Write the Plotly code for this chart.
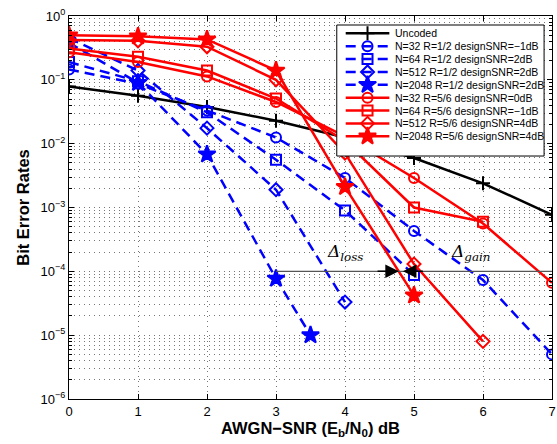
import plotly.graph_objects as go

# Eb/N0 points (dB)
snr = [0, 1, 2, 3, 4, 5, 6, 7]
snr_2048_half = [0, 1, 2, 3, 3.5]

# Uncoded BPSK
ber_uncoded = [0.0786, 0.0563, 0.0375, 0.0229, 0.0125, 0.00595, 0.00239, 0.00077]

# Polar codes, R = 1/2
ber_n32_r12 = [0.145, 0.087, 0.033, 0.0125, 0.0029, 4.3e-4, 7.3e-5, 5e-6]
ber_n64_r12 = [0.19, 0.095, 0.031, 0.0056, 9e-4, 8.8e-5]
ber_n512_r12 = [0.45, 0.14, 0.0175, 0.0019, 3.3e-5]
ber_n2048_r12 = [0.38, 0.09, 0.0068, 7.7e-5, 1e-5]

# Polar codes, R = 5/6
ber_n32_r56 = [0.27, 0.19, 0.113, 0.045, 0.013, 0.0029, 5.6e-4, 6.6e-5]
ber_n64_r56 = [0.31, 0.23, 0.14, 0.051, 0.011, 1e-3, 6e-4]
ber_n512_r56 = [0.42, 0.41, 0.33, 0.1, 0.0071, 1.3e-4, 8e-6]
ber_n2048_r56 = [0.5, 0.48, 0.43, 0.14, 0.0021, 4.2e-5]

# Reference BER level for the loss/gain comparison
ber_ref = 1e-4

ytick_vals = [1, 1e-1, 1e-2, 1e-3, 1e-4, 1e-5, 1e-6]
ytick_text = ["10<sup>0</sup>", "10<sup>−1</sup>", "10<sup>−2</sup>", "10<sup>−3</sup>",
              "10<sup>−4</sup>", "10<sup>−5</sup>", "10<sup>−6</sup>"]

BLUE = "#0000ff"
RED = "#ff0000"
DASH = "10px,6px"

curves = [
    (snr, ber_uncoded, "Uncoded", "black", "cross-thin-open", "solid", 10),
    (snr, ber_n32_r12, "N=32 R=1/2 designSNR=−1dB", BLUE, "circle-open", DASH, 10),
    (snr[:6], ber_n64_r12, "N=64 R=1/2 designSNR=2dB", BLUE, "square-open", DASH, 10),
    (snr[:5], ber_n512_r12, "N=512 R=1/2 designSNR=2dB", BLUE, "diamond-open", DASH, 10),
    (snr_2048_half, ber_n2048_r12, "N=2048 R=1/2 designSNR=2dB", BLUE, "star", DASH, 13),
    (snr, ber_n32_r56, "N=32 R=5/6 designSNR=0dB", RED, "circle-open", "solid", 10),
    (snr[:7], ber_n64_r56, "N=64 R=5/6 designSNR=−1dB", RED, "square-open", "solid", 10),
    (snr[:7], ber_n512_r56, "N=512 R=5/6 designSNR=4dB", RED, "diamond-open", "solid", 10),
    (snr[:6], ber_n2048_r56, "N=2048 R=5/6 designSNR=4dB", RED, "star", "solid", 13),
]

fig = go.Figure()

for x, y, name, color, symbol, dash, size in curves:
    fig.add_trace(go.Scatter(
        x=x, y=y, name=name, mode="lines+markers", showlegend=False,
        line=dict(color=color, width=2.5, dash=dash),
        marker=dict(symbol=symbol, size=size, color=color,
                    line=dict(color=color, width=2)),
    ))

# ---- legend box drawn on an overlay axis spanning the plot area (0..1 both ways)
box_x0, box_x1 = 0.5544, 0.9836
box_y0, box_y1 = 0.6344, 0.9765
row_top, row_step = 0.9548, 0.0336
sample_x0, sample_x1 = 0.5729, 0.6632
text_x = 0.6715

fig.add_trace(go.Scatter(
    x=[box_x0, box_x1, box_x1, box_x0, box_x0],
    y=[box_y0, box_y0, box_y1, box_y1, box_y0],
    xaxis="x2", yaxis="y2", mode="lines", fill="toself",
    fillcolor="white", line=dict(color="black", width=1),
    showlegend=False, hoverinfo="skip",
))

for i, (_, _, name, color, symbol, dash, size) in enumerate(curves):
    ry = row_top - i * row_step
    fig.add_trace(go.Scatter(
        x=[sample_x0, sample_x1], y=[ry, ry], xaxis="x2", yaxis="y2",
        mode="lines", line=dict(color=color, width=2.5, dash=dash),
        showlegend=False, hoverinfo="skip",
    ))
    fig.add_trace(go.Scatter(
        x=[(sample_x0 + sample_x1) / 2], y=[ry], xaxis="x2", yaxis="y2",
        mode="markers",
        marker=dict(symbol=symbol, size=size, color=color,
                    line=dict(color=color, width=2)),
        showlegend=False, hoverinfo="skip",
    ))
    fig.add_annotation(x=text_x, y=ry, xref="x2", yref="y2", text=name,
                       showarrow=False, xanchor="left", yanchor="middle",
                       font=dict(size=10.5, color="black"))

# Horizontal reference line at the target BER
fig.add_shape(type="line", xref="x", yref="y", x0=3, x1=7,
              y0=ber_ref, y1=ber_ref, line=dict(color="#555555", width=1.2))

# Arrows meeting between the two curves
fig.add_annotation(x=4.78, y=-4, ax=4.45, ay=-4, xref="x", yref="y",
                   axref="x", ayref="y", text="", showarrow=True,
                   arrowhead=2, arrowsize=1.8, arrowwidth=1.5, arrowcolor="black")
fig.add_annotation(x=4.84, y=-4, ax=5.15, ay=-4, xref="x", yref="y",
                   axref="x", ayref="y", text="", showarrow=True,
                   arrowhead=2, arrowsize=1.8, arrowwidth=1.5, arrowcolor="black")

delta_font = dict(family="DejaVu Serif", size=17, color="black")
fig.add_annotation(x=4.0, y=-3.70, xref="x", yref="y", showarrow=False,
                   text="<i>Δ<sub>loss</sub></i>", font=delta_font)
fig.add_annotation(x=5.82, y=-3.70, xref="x", yref="y", showarrow=False,
                   text="<i>Δ<sub>gain</sub></i>", font=delta_font)

GRID = "#777777"
GRID_DASH = "1px,4px"

fig.update_layout(
    width=557, height=444,
    margin=dict(l=69, r=1, t=16, b=45),
    paper_bgcolor="white", plot_bgcolor="white",
    font=dict(family="Liberation Sans, Arial, sans-serif", size=13, color="black"),
    showlegend=False,
    xaxis2=dict(overlaying="x", range=[0, 1], visible=False, fixedrange=True),
    yaxis2=dict(overlaying="y", range=[0, 1], visible=False, fixedrange=True),
)

fig.layout.xaxis.update(
    range=[0, 7], dtick=1, tick0=0,
    showline=True, linecolor="black", linewidth=1, mirror="ticks",
    ticks="inside", ticklen=5, tickcolor="black",
    ticklabeloverflow="allow",
    showgrid=True, gridcolor=GRID, gridwidth=1, griddash=GRID_DASH,
    zeroline=False,
    title=dict(text="<b>AWGN−SNR (E<sub>b</sub>/N<sub>0</sub>) dB</b>",
               font=dict(size=16.5), standoff=3),
)

fig.layout.yaxis.update(
    type="log", range=[-6, 0],
    tickvals=ytick_vals, ticktext=ytick_text,
    showline=True, linecolor="black", linewidth=1, mirror="ticks",
    ticks="inside", ticklen=5, tickcolor="black",
    showgrid=True, gridcolor=GRID, gridwidth=1, griddash=GRID_DASH,
    minor=dict(dtick="D1", ticks="inside", ticklen=3, tickcolor="black",
               showgrid=True, gridcolor=GRID, griddash=GRID_DASH, gridwidth=1),
    zeroline=False,
    title=dict(text="<b>Bit Error Rates</b>", font=dict(size=16.5), standoff=6),
)

fig.write_html("out.html")
